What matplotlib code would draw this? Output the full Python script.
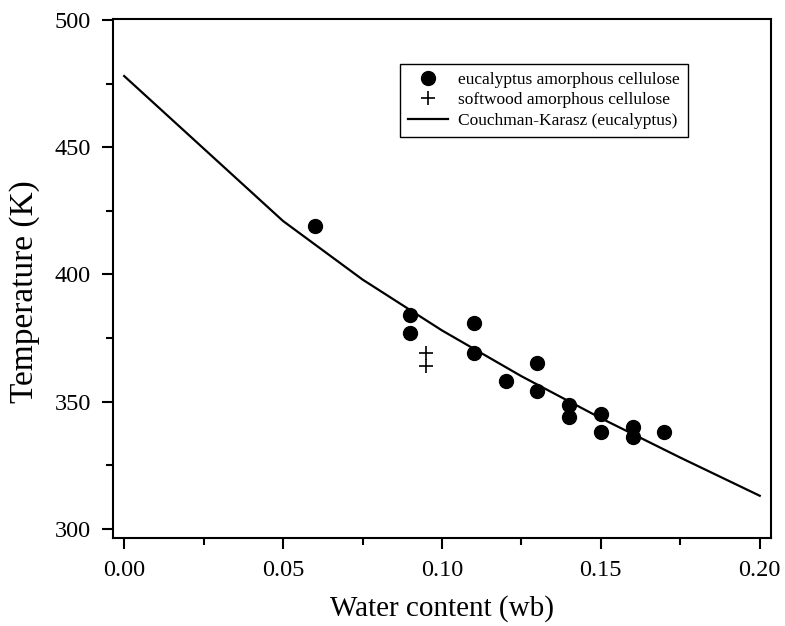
import numpy as np
import matplotlib.pyplot as plt
from matplotlib.ticker import MultipleLocator

plt.rcParams['font.family'] = ['Liberation Serif', 'DejaVu Serif']

# eucalyptus amorphous cellulose (measured)
euc_x = [0.06, 0.09, 0.09, 0.11, 0.11, 0.12, 0.13, 0.13, 0.14, 0.14, 0.15, 0.15, 0.16, 0.16, 0.17]
euc_y = [419, 384, 377, 381, 369, 358, 365, 354, 348.5, 344, 345, 338, 340, 336, 338]

# softwood amorphous cellulose
soft_x = [0.095, 0.095]
soft_y = [369, 364]

# Couchman-Karasz prediction (eucalyptus)
ck_x = [0.0, 0.05, 0.075, 0.10, 0.125, 0.15, 0.175, 0.20]
ck_y = [478, 421, 398, 378, 360, 343.5, 328, 313]

fig, ax = plt.subplots(figsize=(7.85, 6.26), dpi=100)
fig.subplots_adjust(left=0.144, right=0.982, top=0.970, bottom=0.141)

ax.plot(euc_x, euc_y, 'o', color='black', markersize=10, label='eucalyptus amorphous cellulose')
ax.plot(soft_x, soft_y, '+', color='black', markersize=10, markeredgewidth=1.2,
        label='softwood amorphous cellulose')
ax.plot(ck_x, ck_y, '-', color='black', linewidth=1.6, label='Couchman-Karasz (eucalyptus)')

ax.set_xlim(-0.0035, 0.2035)
ax.set_ylim(296.5, 500.5)
ax.xaxis.set_major_locator(MultipleLocator(0.05))
ax.xaxis.set_minor_locator(MultipleLocator(0.025))
ax.yaxis.set_major_locator(MultipleLocator(50))
ax.yaxis.set_minor_locator(MultipleLocator(25))
ax.xaxis.set_major_formatter(plt.FuncFormatter(lambda v, p: f"{v:.2f}"))

ax.tick_params(which='both', direction='out', top=False, right=False, width=1.5, labelsize=17.5)
ax.tick_params(which='major', length=8, pad=8)
ax.tick_params(which='minor', length=5)
for s in ax.spines.values():
    s.set_linewidth(1.5)

ax.set_xlabel('Water content (wb)', fontsize=21, labelpad=10)
ax.set_ylabel('Temperature (K)', fontsize=24)
ax.yaxis.set_label_coords(-0.111, 0.475)

leg = ax.legend(loc='upper right', bbox_to_anchor=(0.874, 0.913), borderaxespad=0, fontsize=12.5,
                frameon=True, fancybox=False, edgecolor='black', framealpha=1,
                handlelength=2.3, borderpad=0.45, labelspacing=0.25, handletextpad=0.6)
leg.get_frame().set_linewidth(1.0)

fig.savefig('out.png', dpi=100)
